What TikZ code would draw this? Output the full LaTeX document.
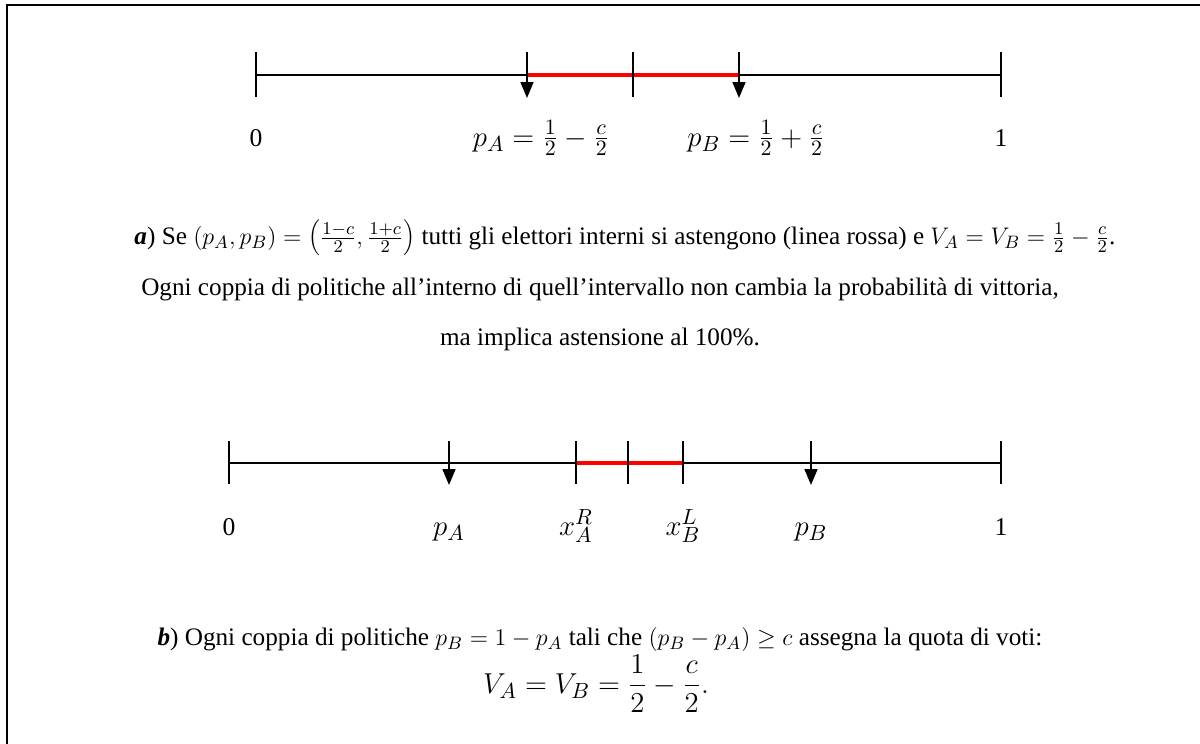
\documentclass[tikz,border=0pt]{standalone}
\usepackage{fontspec}
\setmainfont{Liberation Serif}
\usetikzlibrary{arrows.meta}
\tikzset{
  frameline/.style={line width=1.2pt},
  axisline/.style={line width=0.8pt},
  tickline/.style={line width=0.8pt},
  tickthick/.style={line width=1.2pt},
  redseg/.style={draw=red, line width=2pt},
  drop/.style={line width=0.8pt, -{Triangle[length=8pt,width=6.5pt]}},
  lbl/.style={anchor=base, font=\fontsize{12.8}{15}\selectfont, inner sep=0pt},
  mlbl/.style={anchor=base, font=\fontsize{15}{18}\selectfont, inner sep=0pt},
  txt/.style={anchor=base, font=\fontsize{12.6}{15}\selectfont, inner sep=0pt},
}
\begin{document}
\begin{tikzpicture}[x=0.5pt, y=-0.5pt]
  \useasboundingbox (0,0) rectangle (1200,744);

  % ===== frame (open on the right and at the bottom) =====
  \coordinate (fbl) at (7,744);
  \coordinate (ftl) at (7,5);
  \coordinate (ftr) at (1200,5);
  \draw[frameline] (fbl) -- (ftl) -- (ftr);

  % ===== first line: symmetric policies =====
  \coordinate (u0) at (256,75);
  \coordinate (u1) at (1001,75);
  \coordinate (umid) at (633,75);
  \coordinate (upa) at (527,75);
  \coordinate (upb) at (739,75);
  \draw[axisline] (u0) -- (u1);
  \draw[redseg] (upa) -- (upb);
  \foreach \p in {u0,umid,u1}
    \draw[tickline] (\p) ++(0,-23) -- ++(0,45);
  \draw[drop] (upa) ++(0,-23) -- ++(0,46);
  \draw[drop] (upb) ++(0,-23) -- ++(0,46);

  \node[lbl] (l0) at (256,146) {0};
  \node[mlbl] (lpa) at (541,146) {$p_A=\frac{1}{2}-\frac{c}{2}$};
  \node[mlbl] (lpb) at (756,146) {$p_B=\frac{1}{2}+\frac{c}{2}$};
  \node[lbl] (l1) at (1001,146) {1};

  % ===== caption a) =====
  \node[txt] (capa) at (625,244) {\textbf{\textit{a}}) Se $(p_A,p_B)=\left(\frac{1-c}{2},\frac{1+c}{2}\right)$ tutti gli elettori interni si astengono (linea rossa) e $V_A=V_B=\frac{1}{2}-\frac{c}{2}$.};
  \node[txt] (capb) at (600,295) {Ogni coppia di politiche all’interno di quell’intervallo non cambia la probabilità di vittoria,};
  \node[txt] (capc) at (600,345) {ma implica astensione al 100\%.};

  % ===== second line: policies far apart =====
  \coordinate (v0) at (229,463);
  \coordinate (v1) at (1001,463);
  \coordinate (vxa) at (576,463);
  \coordinate (vmid) at (628,463);
  \coordinate (vxb) at (683,463);
  \coordinate (vpa) at (449,463);
  \coordinate (vpb) at (811,463);
  \draw[axisline] (v0) -- (v1);
  \draw[redseg] (vxa) -- (vxb);
  \foreach \p in {v0,vmid,v1}
    \draw[tickline] (\p) ++(0,-22) -- ++(0,43);
  \foreach \p in {vxa,vxb}
    \draw[tickthick] (\p) ++(0,-22) -- ++(0,43);
  \draw[drop] (vpa) ++(0,-22) -- ++(0,44);
  \draw[drop] (vpb) ++(0,-22) -- ++(0,44);

  \node[lbl] (m0) at (229,535) {0};
  \node[mlbl] (mpa) at (449,535) {$p_A$};
  \node[mlbl] (mxa) at (576,535) {$x_A^R$};
  \node[mlbl] (mxb) at (683,535) {$x_B^L$};
  \node[mlbl] (mpb) at (811,535) {$p_B$};
  \node[lbl] (m1) at (1001,535) {1};

  % ===== caption b) =====
  \node[txt] (capd) at (600,645) {\textbf{\textit{b}}) Ogni coppia di politiche $p_B=1-p_A$ tali che $(p_B-p_A)\geq c$ assegna la quota di voti:};
  \node[mlbl] (cape) at (596,693) {$\displaystyle V_A=V_B=\frac{1}{2}-\frac{c}{2}.$};
\end{tikzpicture}
\end{document}
